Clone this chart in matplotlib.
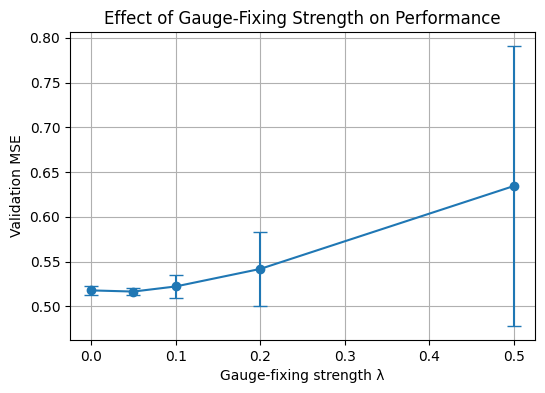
import matplotlib
matplotlib.use("Agg")
import matplotlib.pyplot as plt

lambdas = [0.0, 0.05, 0.1, 0.2, 0.5]
mse_mean = [0.5178, 0.5165, 0.5222, 0.5418, 0.6345]
mse_std = [0.0050, 0.0040, 0.0128, 0.0415, 0.1565]

fig = plt.figure(figsize=(5.45, 3.93), dpi=100)
ax = fig.add_axes([70/545, 1-340/393, (535-70)/545, (340-32)/393])
ax.errorbar(lambdas, mse_mean, yerr=mse_std, marker='o', capsize=5, color='#1f77b4')
ax.set_xlabel('Gauge-fixing strength λ')
ax.set_ylabel('Validation MSE')
ax.set_title('Effect of Gauge-Fixing Strength on Performance')
ax.grid(True)
fig.savefig('out.png', dpi=100)
